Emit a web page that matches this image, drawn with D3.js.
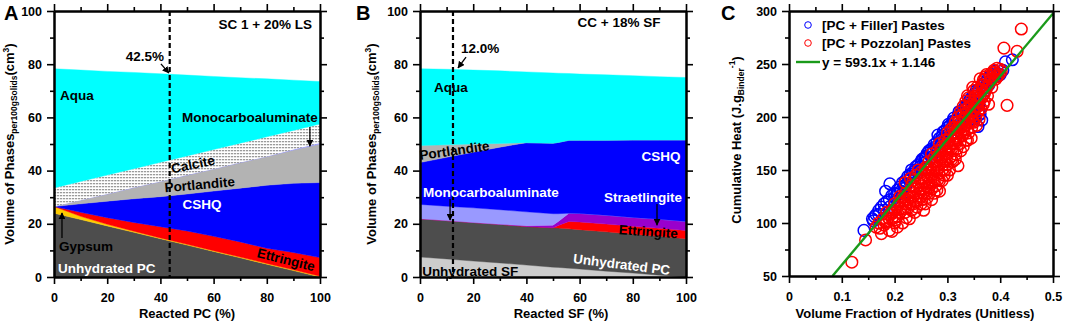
<!DOCTYPE html>
<html>
<head>
<meta charset="utf-8">
<script src="https://cdn.jsdelivr.net/npm/d3@7"></script>
<style>
  body { margin: 0; background: #fff; }
  svg text { font-family: "Liberation Sans", Arial, sans-serif; font-weight: bold; }
</style>
</head>
<body>
<svg id="chart" width="1065" height="323"></svg>
<script>
// ---- Panel A: SC 1 + 20% LS, volume of phases vs reacted PC
const reactedPC = [0, 10, 20, 30, 40, 50, 60, 70, 80, 90, 100];
const phasesA = ["Unhydrated PC", "Gypsum", "Ettringite", "CSHQ", "Portlandite", "Monocarboaluminate", "Calcite", "Aqua"];
const unhydratedPC_A = [24, 21.6, 19.2, 16.8, 14.4, 12, 9.6, 7.2, 4.8, 2.4, 0];
const gypsum_A = [2.5, 1.2, 0.6, 0.4, 0.3, 0.3, 0.3, 0.3, 0.3, 0.3, 0.3];
const ettringite_A = [0, 1.5, 2.5, 3.3, 4.2, 5.0, 5.4, 5.7, 5.7, 6.5, 7.0];
const cshq_A = [0, 3.2, 6.2, 8.9, 11.3, 13.9, 17.0, 20.2, 23.7, 26.0, 28.2];
const portlandite_A = [0, 1.4, 2.7, 4.2, 5.7, 7.1, 8.3, 9.6, 10.8, 12.5, 14.5];
const monocarb_A = [0, 0, 0, 0, 0, 0, 0, 0, 0, 0.2, 0.4];
const calcite_A = [7.0, 7.0, 7.1, 7.1, 7.2, 7.2, 7.3, 7.3, 7.4, 7.2, 7.1];
const aqua_A = [44.8, 41.9, 39.0, 36.2, 33.3, 30.4, 27.5, 24.6, 21.8, 18.9, 16.0];

// ---- Panel B: CC + 18% SF, volume of phases vs reacted SF
const reactedSF = [0, 10, 20, 30, 40, 50, 52, 56, 60, 70, 80, 90, 100];
const phasesB = ["Unhydrated SF", "Unhydrated PC", "Ettringite", "Straetlingite", "Monocarboaluminate", "CSHQ", "Portlandite", "Aqua"];
const unhydratedSF_B = [7.5, 6.8, 6.0, 5.3, 4.5, 3.7, 3.6, 3.3, 3.0, 2.2, 1.5, 0.7, 0];
const unhydratedPC_B = [14.4, 14.4, 14.5, 14.5, 14.5, 14.8, 14.8, 14.8, 14.8, 14.8, 14.6, 14.6, 14.4];
const ettringite_B = [0, 0, 0, 0, 0, 0, 1.0, 2.8, 2.9, 2.9, 3.0, 3.0, 3.1];
const straetlingite_B = [0, 0, 0, 0, 0.3, 1.0, 1.5, 3.1, 3.2, 3.3, 3.3, 3.4, 3.4];
const monocarb_B = [5.4, 5.4, 5.5, 5.5, 5.2, 4.3, 2.9, 0, 0, 0, 0, 0, 0];
const cshq_B = [15.7, 18.4, 20.9, 23.5, 26.0, 26.5, 26.8, 27.4, 27.5, 28.2, 29.1, 29.8, 30.6];
const portlandite_B = [6.4, 4.7, 3.1, 1.4, 0, 0, 0, 0, 0, 0, 0, 0, 0];
const aqua_B = [28.9, 28.4, 27.8, 27.3, 26.6, 26.4, 26.0, 25.1, 24.9, 24.6, 24.2, 23.8, 23.5];

const phaseColors = {
  "Unhydrated PC": "#4d4d4d", "Unhydrated SF": "#cccccc", "Gypsum": "#ffcc00",
  "Ettringite": "#ff0000", "Straetlingite": "#9900cc", "CSHQ": "#0000ff",
  "Portlandite": "#b3b3b3", "Monocarboaluminate": "#9999ff", "Calcite": "url(#hatch)",
  "Aqua": "#00ffff"
};

// ---- Panel C: cumulative heat vs volume fraction of hydrates [x, y]
const fillerPastes = [
  [0.142, 93], [0.158, 104], [0.162, 106], [0.183, 130], [0.191, 137], [0.170, 112], [0.175, 115],
  [0.180, 118], [0.185, 120], [0.190, 122], [0.195, 126], [0.200, 128], [0.200, 124], [0.205, 131],
  [0.210, 134], [0.212, 130], [0.215, 138], [0.220, 140], [0.222, 136], [0.225, 144], [0.230, 146],
  [0.232, 150], [0.235, 148], [0.240, 150], [0.240, 153], [0.245, 155], [0.250, 158], [0.252, 160],
  [0.255, 161], [0.260, 163], [0.262, 166], [0.265, 168], [0.270, 170], [0.272, 167], [0.275, 174],
  [0.280, 176], [0.282, 183], [0.285, 180], [0.290, 182], [0.292, 186], [0.295, 187], [0.300, 190],
  [0.302, 193], [0.305, 192], [0.310, 196], [0.312, 199], [0.315, 197], [0.320, 201], [0.322, 205],
  [0.325, 203], [0.330, 207], [0.333, 209], [0.335, 211], [0.340, 213], [0.342, 216], [0.345, 218],
  [0.350, 220], [0.352, 222], [0.355, 225], [0.358, 191], [0.362, 203], [0.360, 226], [0.365, 229],
  [0.370, 232], [0.372, 228], [0.375, 235], [0.380, 238], [0.385, 240], [0.390, 243], [0.395, 241],
  [0.410, 252], [0.423, 254], [0.200, 120], [0.220, 133], [0.250, 150], [0.270, 162], [0.300, 180],
  [0.320, 192], [0.340, 205], [0.350, 210], [0.360, 212], [0.215, 128], [0.180, 112], [0.190, 115],
  [0.280, 170], [0.310, 188], [0.330, 198], [0.345, 208], [0.352, 200], [0.360, 206], [0.355, 215],
  [0.365, 197], [0.368, 222], [0.378, 230], [0.165, 108], [0.228, 141], [0.258, 157],
  [0.205, 127], [0.218, 135], [0.238, 147], [0.248, 153], [0.258, 162], [0.268, 168], [0.278, 172],
  [0.288, 178], [0.298, 185], [0.308, 190], [0.318, 195], [0.328, 202], [0.338, 208], [0.348, 214],
  [0.358, 218], [0.368, 226], [0.382, 234], [0.392, 238], [0.400, 240], [0.405, 244], [0.350, 198],
  [0.360, 202], [0.340, 200], [0.170, 108], [0.160, 102], [0.260, 158], [0.290, 176], [0.310, 184]
];
const pozzolanPastes = [
  [0.119, 63], [0.145, 84], [0.165, 96], [0.170, 100], [0.175, 90], [0.178, 104], [0.180, 98],
  [0.185, 102], [0.190, 93], [0.190, 108], [0.195, 104], [0.200, 100], [0.200, 112], [0.205, 115],
  [0.205, 106], [0.210, 110], [0.210, 120], [0.215, 113], [0.215, 124], [0.220, 118], [0.220, 128],
  [0.225, 114], [0.225, 122], [0.230, 118], [0.230, 130], [0.232, 135], [0.235, 125], [0.235, 140],
  [0.240, 120], [0.240, 132], [0.240, 145], [0.245, 128], [0.245, 138], [0.250, 125], [0.250, 135],
  [0.250, 148], [0.255, 132], [0.255, 142], [0.258, 152], [0.260, 128], [0.260, 140], [0.260, 150],
  [0.265, 138], [0.265, 148], [0.265, 158], [0.270, 132], [0.270, 145], [0.270, 155], [0.270, 165],
  [0.275, 140], [0.275, 152], [0.275, 162], [0.280, 131], [0.280, 148], [0.280, 158], [0.280, 168],
  [0.285, 140], [0.285, 155], [0.285, 165], [0.285, 175], [0.290, 150], [0.290, 162], [0.290, 172],
  [0.295, 158], [0.295, 168], [0.295, 178], [0.300, 155], [0.300, 165], [0.300, 175], [0.300, 185],
  [0.305, 162], [0.305, 172], [0.305, 182], [0.310, 168], [0.310, 178], [0.310, 190], [0.315, 175],
  [0.315, 185], [0.315, 195], [0.320, 154], [0.320, 180], [0.320, 190], [0.320, 200], [0.325, 185],
  [0.325, 195], [0.325, 205], [0.330, 188], [0.330, 198], [0.330, 210], [0.335, 192], [0.335, 203],
  [0.335, 215], [0.340, 195], [0.340, 208], [0.340, 218], [0.345, 180], [0.345, 200], [0.345, 212],
  [0.350, 205], [0.350, 215], [0.350, 225], [0.355, 210], [0.355, 220], [0.360, 215], [0.360, 225],
  [0.365, 218], [0.365, 230], [0.370, 222], [0.370, 235], [0.375, 228], [0.378, 212], [0.380, 232],
  [0.380, 240], [0.385, 236], [0.390, 242], [0.395, 238], [0.400, 245], [0.407, 265], [0.413, 211],
  [0.432, 262], [0.440, 283], [0.260, 152], [0.220, 110], [0.235, 118], [0.250, 118], [0.262, 124],
  [0.275, 128], [0.290, 140], [0.245, 150], [0.200, 118], [0.210, 125], [0.250, 142], [0.230, 124],
  [0.220, 138], [0.230, 142], [0.195, 112], [0.185, 110], [0.255, 128], [0.268, 136], [0.282, 152],
  [0.298, 170], [0.308, 160], [0.318, 170], [0.328, 182], [0.338, 188], [0.348, 196], [0.358, 205],
  [0.368, 212], [0.338, 220], [0.348, 228], [0.362, 236], [0.372, 238], [0.388, 244], [0.272, 150],
  [0.288, 160], [0.302, 172], [0.312, 184], [0.322, 188], [0.332, 192], [0.342, 202], [0.357, 214],
  [0.172, 95], [0.182, 101], [0.188, 105], [0.196, 109], [0.202, 103], [0.208, 118], [0.212, 114],
  [0.218, 121], [0.222, 105], [0.228, 126], [0.232, 112], [0.238, 128], [0.242, 115], [0.248, 132],
  [0.252, 122], [0.256, 138], [0.258, 118], [0.262, 145], [0.266, 128], [0.268, 152], [0.272, 140],
  [0.276, 158], [0.278, 135], [0.282, 163], [0.284, 147], [0.288, 168], [0.292, 155], [0.294, 145],
  [0.296, 174], [0.298, 160], [0.302, 178], [0.304, 150], [0.306, 188], [0.308, 170], [0.312, 175],
  [0.314, 190], [0.316, 165], [0.318, 182], [0.322, 196], [0.324, 175], [0.326, 190], [0.328, 202],
  [0.332, 185], [0.334, 198], [0.336, 208], [0.338, 178], [0.342, 195], [0.344, 215], [0.346, 190],
  [0.348, 205], [0.352, 218], [0.354, 200], [0.356, 228], [0.358, 210], [0.362, 220], [0.364, 208],
  [0.366, 226], [0.368, 235], [0.372, 225], [0.374, 240], [0.376, 220], [0.382, 236], [0.384, 228],
  [0.386, 242], [0.392, 236], [0.394, 246], [0.398, 240], [0.402, 243], [0.238, 110], [0.228, 104],
  [0.262, 135], [0.282, 141], [0.300, 145], [0.270, 122], [0.310, 158], [0.330, 172], [0.350, 195],
  [0.360, 198], [0.370, 215], [0.245, 122], [0.255, 112], [0.265, 133], [0.205, 96], [0.195, 92],
  [0.215, 100], [0.285, 130], [0.295, 150], [0.315, 160], [0.325, 168], [0.340, 185], [0.355, 192],
  [0.335, 178]
];
const fitSlope = 593.1, fitIntercept = 1.146;
const fitRange = [0.0824, 0.5];

// ---------------------------------------------------------------
const svg = d3.select("#chart");
const defs = svg.append("defs");
// calcite: fine grey dotted hatching on white
const hatch = defs.append("pattern").attr("id", "hatch")
  .attr("width", 3).attr("height", 3).attr("patternUnits", "userSpaceOnUse");
hatch.append("rect").attr("width", 3).attr("height", 3).attr("fill", "#fff");
hatch.append("rect").attr("width", 2.2).attr("height", 1.3).attr("fill", "#9a9a9a");
defs.append("marker").attr("id", "arrow")
  .attr("viewBox", "0 0 10 10").attr("refX", 9).attr("refY", 5)
  .attr("markerWidth", 7).attr("markerHeight", 7).attr("markerUnits", "userSpaceOnUse")
  .attr("orient", "auto")
  .append("path").attr("d", "M0,0L10,5L0,10z").attr("fill", "#000");

function styleAxis(g) {
  g.select(".domain").attr("stroke", "#000").attr("stroke-width", 2);
  g.selectAll(".tick line").attr("stroke", "#000").attr("stroke-width", 1.6);
  g.selectAll(".tick text").attr("font-size", 12.5).attr("fill", "#000");
}

// draws the box with major+minor ticks on all four sides
function drawFrame(g, x, y, xMajor, xMinor, yMajor, yMinor, xFmt, yFmt) {
  const [x0, x1] = x.range(), [y0, y1] = y.range();
  const noLab = () => "";
  const parts = [
    [d3.axisBottom(x).tickValues(xMajor).tickFormat(xFmt).tickSize(7).tickPadding(9), y0],
    [d3.axisBottom(x).tickValues(xMinor).tickFormat(noLab).tickSize(4), y0],
    [d3.axisTop(x).tickValues(xMajor).tickFormat(noLab).tickSize(7), y1],
    [d3.axisTop(x).tickValues(xMinor).tickFormat(noLab).tickSize(4), y1]
  ];
  parts.forEach(([ax, ty]) => g.append("g").attr("transform", `translate(0,${ty})`).call(ax.tickSizeOuter(0)).call(styleAxis));
  const vparts = [
    [d3.axisLeft(y).tickValues(yMajor).tickFormat(yFmt).tickSize(7).tickPadding(5), x0],
    [d3.axisLeft(y).tickValues(yMinor).tickFormat(noLab).tickSize(4), x0],
    [d3.axisRight(y).tickValues(yMajor).tickFormat(noLab).tickSize(7), x1],
    [d3.axisRight(y).tickValues(yMinor).tickFormat(noLab).tickSize(4), x1]
  ];
  vparts.forEach(([ax, tx]) => g.append("g").attr("transform", `translate(${tx},0)`).call(ax.tickSizeOuter(0)).call(styleAxis));
}

function drawStack(g, xs, keys, series, x, y) {
  const rows = xs.map((v, i) => {
    const r = { x: v };
    keys.forEach(k => r[k] = series[k][i]);
    return r;
  });
  const stacked = d3.stack().keys(keys)(rows);
  const area = d3.area().x(d => x(d.data.x)).y0(d => y(d[0])).y1(d => y(d[1]));
  g.append("g").selectAll("path").data(stacked).join("path")
    .attr("d", area)
    .attr("fill", d => phaseColors[d.key])
    .attr("stroke", d => d.key === "Calcite" ? "none" : phaseColors[d.key])
    .attr("stroke-width", 0.4);
}

function label(g, txt, px, py, opts = {}) {
  return g.append("text")
    .attr("transform", `translate(${px},${py}) rotate(${opts.rot || 0})`)
    .attr("text-anchor", opts.anchor || "start")
    .attr("font-size", opts.size || 13.5)
    .attr("fill", opts.fill || "#000")
    .text(txt);
}
function arrow(g, x1, y1, x2, y2) {
  g.append("line").attr("x1", x1).attr("y1", y1).attr("x2", x2).attr("y2", y2)
    .attr("stroke", "#000").attr("stroke-width", 1.3).attr("marker-end", "url(#arrow)");
}
function dashed(g, x, y, xv) {
  g.append("line").attr("x1", x(xv)).attr("x2", x(xv)).attr("y1", y(100)).attr("y2", y(0))
    .attr("stroke", "#000").attr("stroke-width", 2.2).attr("stroke-dasharray", "5,3");
}
function yTitleVol(g, cx, cy) {
  const t = g.append("text").attr("transform", `translate(${cx},${cy}) rotate(-90)`)
    .attr("text-anchor", "middle").attr("font-size", 13);
  t.append("tspan").text("Volume of Phases");
  t.append("tspan").attr("font-size", 8.5).attr("dy", 3).text("per100gSolids");
  t.append("tspan").attr("dy", -3).text("(cm");
  t.append("tspan").attr("font-size", 8.5).attr("dy", -5).text("3");
  t.append("tspan").attr("dy", 5).text(")");
}

const tick20 = d3.range(0, 101, 20), tick10 = d3.range(10, 100, 20);

// ---------------- Panel A ----------------
{
  const g = svg.append("g");
  const x = d3.scaleLinear().domain([0, 100]).range([54, 320]);
  const y = d3.scaleLinear().domain([0, 100]).range([277, 11]);
  const series = {
    "Unhydrated PC": unhydratedPC_A, "Gypsum": gypsum_A, "Ettringite": ettringite_A, "CSHQ": cshq_A,
    "Portlandite": portlandite_A, "Monocarboaluminate": monocarb_A, "Calcite": calcite_A, "Aqua": aqua_A
  };
  drawStack(g, reactedPC, phasesA, series, x, y);
  dashed(g, x, y, 43.5);
  drawFrame(g, x, y, tick20, tick10, tick20, tick10, d3.format("d"), d3.format("d"));

  label(g, "A", 4, 20, { size: 20 });
  label(g, "SC 1 + 20% LS", x(97), y(93.2), { anchor: "end" });
  label(g, "42.5%", x(34.2), y(81.2), { anchor: "middle" });
  arrow(g, x(40.2), y(80.1), x(43.2), y(76.7));
  label(g, "Aqua", x(2.3), y(66.5));
  label(g, "Monocarboaluminate", x(99.2), y(58.3), { anchor: "end" });
  arrow(g, x(96.2), y(56.4), x(96.2), y(49.2));
  label(g, "Calcite", x(52.6), y(40.6), { anchor: "middle", rot: -12 });
  label(g, "Portlandite", x(54.9), y(33), { anchor: "middle", rot: -5 });
  label(g, "CSHQ", x(55.6), y(25.6), { anchor: "middle", fill: "#fff" });
  label(g, "Gypsum", x(1.9), y(9.8));
  arrow(g, x(3), y(14.7), x(3), y(24.1));
  label(g, "Unhydrated PC", x(1.5), y(1.5), { fill: "#fff" });
  label(g, "Ettringite", x(86.8), y(4.8), { anchor: "middle", rot: 14 });

  yTitleVol(g, 14, 144);
  label(g, "Reacted PC (%)", 187, 318, { anchor: "middle", size: 13 });
}

// ---------------- Panel B ----------------
{
  const g = svg.append("g");
  const x = d3.scaleLinear().domain([0, 100]).range([420, 686]);
  const y = d3.scaleLinear().domain([0, 100]).range([277, 11]);
  const series = {
    "Unhydrated SF": unhydratedSF_B, "Unhydrated PC": unhydratedPC_B, "Ettringite": ettringite_B,
    "Straetlingite": straetlingite_B, "Monocarboaluminate": monocarb_B, "CSHQ": cshq_B,
    "Portlandite": portlandite_B, "Aqua": aqua_B
  };
  drawStack(g, reactedSF, phasesB, series, x, y);
  dashed(g, x, y, 12.4);
  drawFrame(g, x, y, tick20, tick10, tick20, tick10, d3.format("d"), d3.format("d"));

  label(g, "B", 356, 20, { size: 20 });
  label(g, "CC + 18% SF", x(74.8), y(94), { anchor: "middle" });
  label(g, "12.0%", x(15.4), y(84.2));
  arrow(g, x(17.3), y(82.7), x(14.3), y(78.6));
  label(g, "Aqua", x(5.3), y(69.5));
  label(g, "Portlandite", x(13.2), y(45.8), { anchor: "middle", rot: -8 });
  label(g, "CSHQ", x(90.6), y(43.5), { anchor: "middle", fill: "#fff" });
  label(g, "Monocarboaluminate", x(1.1), y(30.1), { fill: "#fff" });
  arrow(g, x(11.3), y(29.3), x(11.3), y(21.4));
  label(g, "Straetlingite", x(83.8), y(28.2), { anchor: "middle", fill: "#fff" });
  arrow(g, x(89.1), y(27.4), x(89.1), y(19.5));
  label(g, "Ettringite", x(85.7), y(15.3), { anchor: "middle", rot: 4 });
  label(g, "Unhydrated PC", x(75.6), y(3), { anchor: "middle", fill: "#fff", rot: 7 });
  label(g, "Unhydrated SF", x(0.8), y(0.4));

  yTitleVol(g, 376, 144);
  label(g, "Reacted SF (%)", 561, 318, { anchor: "middle", size: 13 });
}

// ---------------- Panel C ----------------
{
  const g = svg.append("g");
  const x = d3.scaleLinear().domain([0, 0.5]).range([789, 1053]);
  const y = d3.scaleLinear().domain([50, 300]).range([276, 11]);
  const plot = g.append("g");
  plot.append("clipPath").attr("id", "clipC").append("rect")
    .attr("x", 789).attr("y", 11).attr("width", 264).attr("height", 265);
  const pts = plot.append("g").attr("clip-path", "url(#clipC)");
  pts.append("g").selectAll("circle").data(fillerPastes).join("circle")
    .attr("cx", d => x(d[0])).attr("cy", d => y(d[1])).attr("r", 5.8)
    .attr("fill", "none").attr("stroke", "#0000ff").attr("stroke-width", 1.5);
  pts.append("g").selectAll("circle").data(pozzolanPastes).join("circle")
    .attr("cx", d => x(d[0])).attr("cy", d => y(d[1])).attr("r", 5.8)
    .attr("fill", "none").attr("stroke", "#ff0000").attr("stroke-width", 1.5);
  pts.append("path").datum(fitRange)
    .attr("d", d3.line().x(d => x(d)).y(d => y(fitSlope * d + fitIntercept)))
    .attr("stroke", "#1a9a1a").attr("stroke-width", 2.4).attr("fill", "none");

  drawFrame(g, x, y, d3.range(0, 0.51, 0.1), d3.range(0.05, 0.5, 0.1),
    d3.range(50, 301, 50), d3.range(75, 300, 50), d => d === 0 ? "0" : d3.format(".1f")(d), d3.format("d"));

  label(g, "C", 721, 20, { size: 20 });
  // legend
  g.append("circle").attr("cx", 808).attr("cy", 25).attr("r", 3.3).attr("fill", "none").attr("stroke", "#0000ff");
  label(g, "[PC + Filler] Pastes", 822, 30);
  g.append("circle").attr("cx", 808).attr("cy", 43).attr("r", 3.3).attr("fill", "none").attr("stroke", "#ff0000");
  label(g, "[PC + Pozzolan] Pastes", 822, 48);
  g.append("line").attr("x1", 796).attr("x2", 820).attr("y1", 62).attr("y2", 62)
    .attr("stroke", "#1a9a1a").attr("stroke-width", 2.4);
  label(g, "y = 593.1x + 1.146", 822, 67);

  const t = g.append("text").attr("transform", "translate(741,140) rotate(-90)")
    .attr("text-anchor", "middle").attr("font-size", 13);
  t.append("tspan").text("Cumulative Heat (J.g");
  t.append("tspan").attr("font-size", 8.5).attr("dy", 3).text("Binder");
  t.append("tspan").attr("font-size", 8.5).attr("dy", -9).text("-1");
  t.append("tspan").attr("dy", 6).text(")");
  label(g, "Volume Fraction of Hydrates (Unitless)", 915, 318, { anchor: "middle", size: 13 });
}
</script>
</body>
</html>
